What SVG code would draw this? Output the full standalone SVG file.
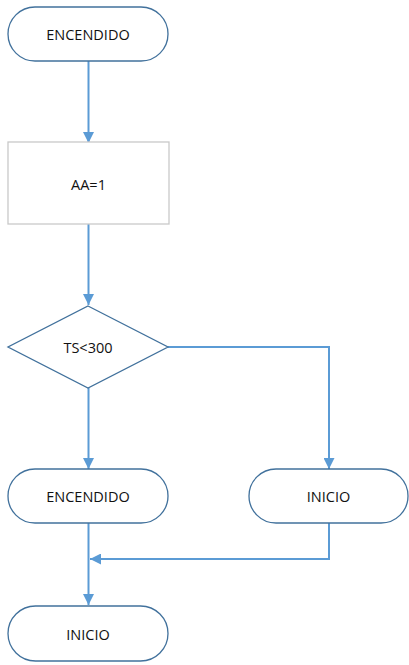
<svg xmlns="http://www.w3.org/2000/svg" width="409" height="665" viewBox="0 0 409 665">
  <style>
    .term { fill: #ffffff; stroke: #41719c; stroke-width: 1.3; }
    .proc { fill: #ffffff; stroke: #c9c9c9; stroke-width: 1.3; }
    .dec { fill: #ffffff; stroke: #41719c; stroke-width: 1.3; }
    .lbl { font-family: "Open Sans", "Liberation Sans", Arial, sans-serif; font-size: 14.5px; fill: #111111; text-anchor: middle; dominant-baseline: central; }
    .conn { fill: none; stroke: #5b9bd5; stroke-width: 2; }
  </style>
  <defs>
    <marker id="arrow" viewBox="0 0 10 10" refX="10" refY="5" markerWidth="5.5" markerHeight="5.5" orient="auto" markerUnits="strokeWidth">
      <path d="M0,0 L10,5 L0,10 Z" fill="#5b9bd5"/>
    </marker>
  </defs>

  <rect width="409" height="665" fill="#ffffff"/>

  <g id="connectors">
    <path class="conn" d="M88.5,61 V143" marker-end="url(#arrow)"/>
    <path class="conn" d="M88.5,224 V305" marker-end="url(#arrow)"/>
    <path class="conn" d="M168,347 H329 V469" marker-end="url(#arrow)"/>
    <path class="conn" d="M88.5,388 V469" marker-end="url(#arrow)"/>
    <path class="conn" d="M88.5,523 V605" marker-end="url(#arrow)"/>
    <path class="conn" d="M329,523 V559 H90" marker-end="url(#arrow)"/>
  </g>

  <g id="start">
    <rect class="term" x="8" y="7" width="160" height="54" rx="27" ry="27"/>
    <text class="lbl" x="88" y="34">ENCENDIDO</text>
  </g>

  <g id="assign">
    <rect class="proc" x="8" y="142" width="161" height="82"/>
    <text class="lbl" x="88.5" y="184">AA=1</text>
  </g>

  <g id="check">
    <polygon class="dec" points="88,306 168,347 88,388 8,347"/>
    <text class="lbl" x="88" y="347">TS&lt;300</text>
  </g>

  <g id="on">
    <rect class="term" x="8" y="469" width="160" height="54" rx="27" ry="27"/>
    <text class="lbl" x="88" y="496">ENCENDIDO</text>
  </g>

  <g id="restart">
    <rect class="term" x="249" y="469" width="159" height="54" rx="27" ry="27"/>
    <text class="lbl" x="328.5" y="496">INICIO</text>
  </g>

  <g id="end">
    <rect class="term" x="8" y="606" width="160" height="55" rx="27.5" ry="27.5"/>
    <text class="lbl" x="88" y="634">INICIO</text>
  </g>
</svg>
